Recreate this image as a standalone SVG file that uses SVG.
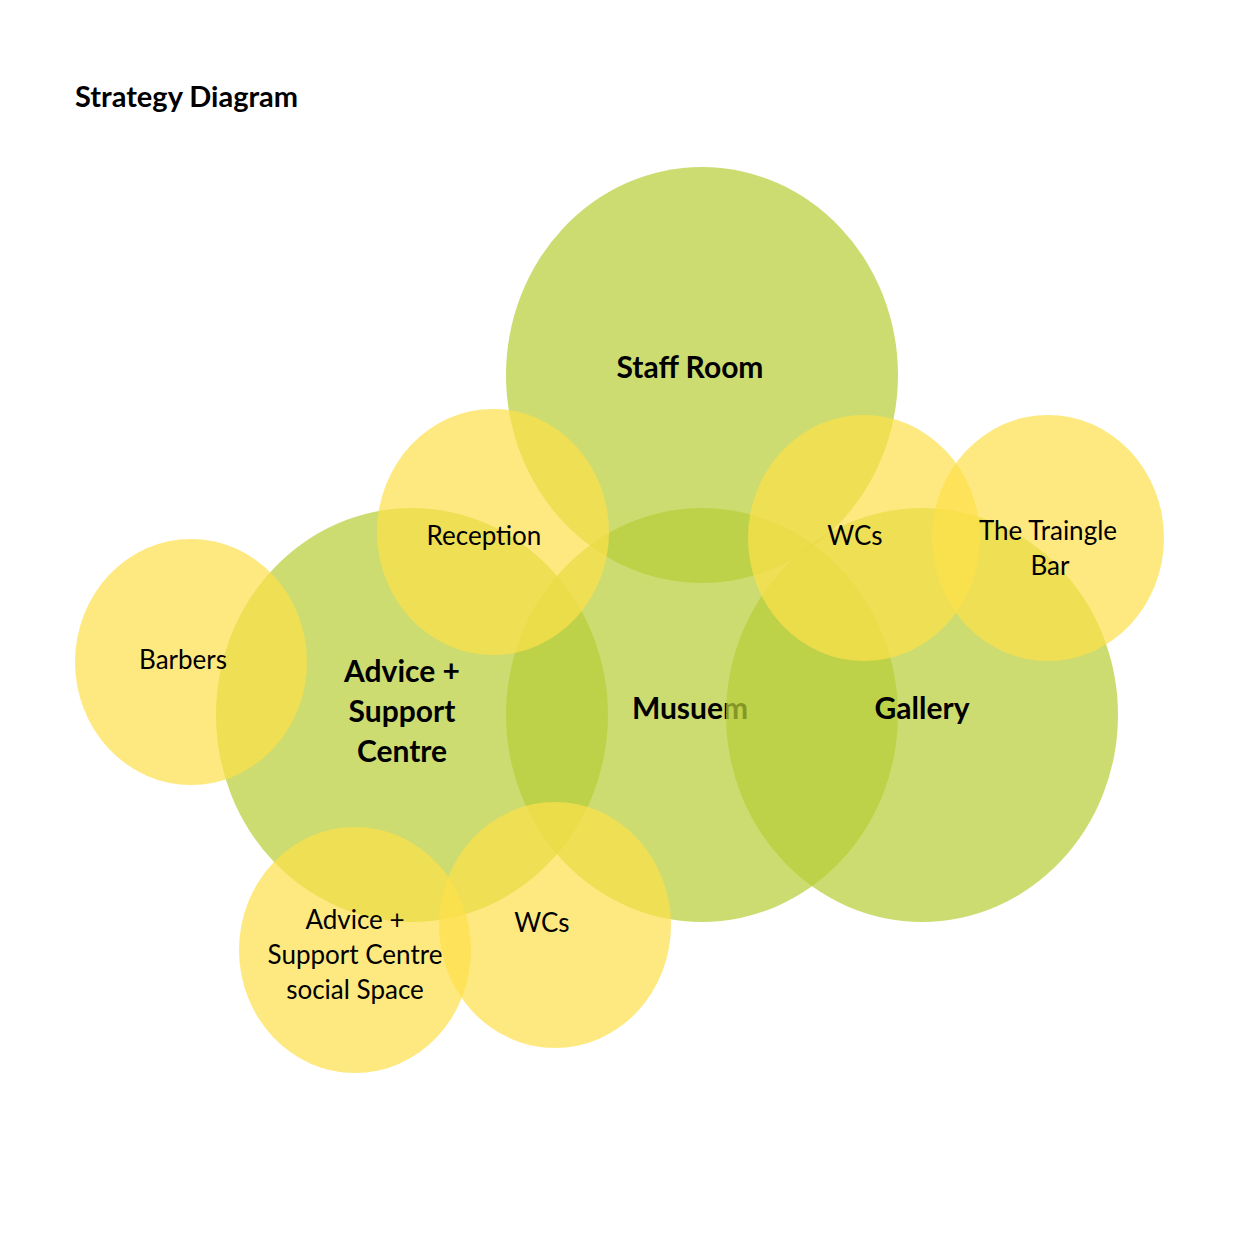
<svg xmlns="http://www.w3.org/2000/svg" width="1240" height="1240" viewBox="0 0 1240 1240">
<style>
.g{fill:#b8cf3a;fill-opacity:0.72}
.y{fill:#fde04a;fill-opacity:0.7}
text{font-family:Lato,"Liberation Sans",sans-serif;fill:#000;text-anchor:middle}
.b{font-weight:bold;font-size:30px}
.n{font-size:26px}
</style>
<rect width="1240" height="1240" fill="#fff"/>
<text x="75" y="107" style="text-anchor:start;font-weight:bold;font-size:29px">Strategy Diagram</text>
<g id="staff"><ellipse class="g" cx="702" cy="375" rx="196" ry="208"/><text class="b" x="690" y="378">Staff Room</text></g>
<g id="advice"><ellipse class="g" cx="412" cy="715" rx="196" ry="207"/><text class="b" x="402" y="682">Advice +</text><text class="b" x="402" y="722">Support</text><text class="b" x="402" y="762">Centre</text></g>
<g id="museum"><ellipse class="g" cx="702" cy="715" rx="196" ry="207"/><text class="b" x="690" y="719">Musuem</text></g>
<g id="gallery"><ellipse class="g" cx="922" cy="715" rx="196" ry="207"/><text class="b" x="922" y="719">Gallery</text></g>
<g id="reception"><ellipse class="y" cx="493" cy="532" rx="116" ry="123"/><text class="n" x="484" y="545">Reception</text></g>
<g id="wcs1"><ellipse class="y" cx="864" cy="538" rx="116" ry="123"/><text class="n" x="855" y="545">WCs</text></g>
<g id="bar"><ellipse class="y" cx="1048" cy="538" rx="116" ry="123"/><text class="n" x="1048" y="540">The Traingle</text><text class="n" x="1050" y="575">Bar</text></g>
<g id="barbers"><ellipse class="y" cx="191" cy="662" rx="116" ry="123"/><text class="n" x="183" y="669">Barbers</text></g>
<g id="social"><ellipse class="y" cx="355" cy="950" rx="116" ry="123"/><text class="n" x="355" y="929">Advice +</text><text class="n" x="355" y="964">Support Centre</text><text class="n" x="355" y="999">social Space</text></g>
<g id="wcs2"><ellipse class="y" cx="555" cy="925" rx="116" ry="123"/><text class="n" x="542" y="932">WCs</text></g>
<g id="connectors"/>
</svg>
